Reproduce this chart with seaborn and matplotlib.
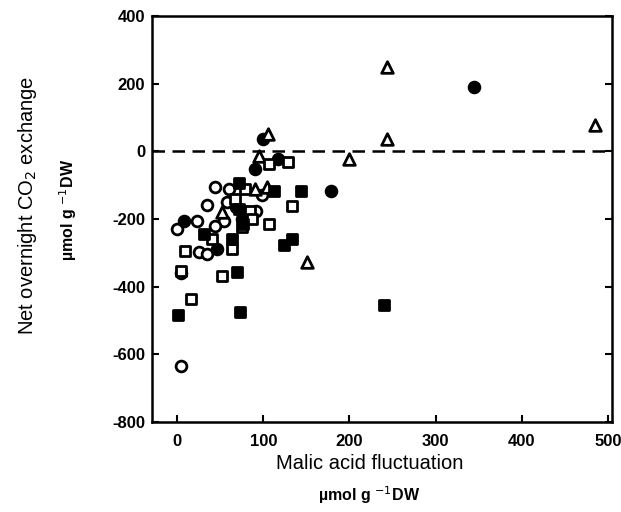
import numpy as np
import pandas as pd
import matplotlib
matplotlib.use("Agg")
import matplotlib.pyplot as plt
import seaborn as sns

# ── Data ─────────────────────────────────────────────────────────────────────
open_circle_x = [44, 58, 35, 98, 54, 44, 23, 0, 25, 35, 5, 5, 92, 60]
open_circle_y = [-107, -151, -160, -130, -205, -222, -207, -231, -299, -305, -359, -634, -178, -112]

filled_circle_x = [100, 117, 90, 178, 344, 8, 46, 68, 75]
filled_circle_y = [36, -24, -53, -118, 190, -207, -290, -165, -200]

open_triangle_x = [243, 243, 485, 200, 95, 105, 90, 104, 52, 151]
open_triangle_y = [250, 36, 77, -24, -15, 52, -112, -107, -181, -326]

open_square_x = [107, 129, 79, 67, 84, 87, 107, 75, 40, 64, 9, 5, 52, 16, 133]
open_square_y = [-38, -33, -113, -142, -178, -201, -216, -225, -260, -290, -296, -355, -370, -438, -163]

filled_square_x = [72, 112, 144, 72, 77, 64, 31, 69, 1, 73, 124, 133, 240]
filled_square_y = [-95, -118, -118, -172, -216, -258, -246, -358, -483, -474, -276, -258, -456]

x_ticks = [0, 100, 200, 300, 400, 500]
y_ticks = [-800, -600, -400, -200, 0, 200, 400]

groups = [
    (open_circle_x, open_circle_y, "o", "white", 60),
    (filled_circle_x, filled_circle_y, "o", "black", 60),
    (open_triangle_x, open_triangle_y, "^", "white", 70),
    (open_square_x, open_square_y, "s", "white", 60),
    (filled_square_x, filled_square_y, "s", "black", 60),
]

# ── Figure ───────────────────────────────────────────────────────────────────
sns.set_style("ticks", {"text.color": "black", "axes.labelcolor": "black",
                        "xtick.color": "black", "ytick.color": "black",
                        "axes.edgecolor": "black"})
plt.rcParams["font.family"] = ["Liberation Sans", "DejaVu Sans"]
plt.rcParams["axes.unicode_minus"] = False

fig = plt.figure(figsize=(6.21, 5.12), dpi=100)
ax = fig.add_axes([0.245, 0.176, 0.741, 0.793])

for gx, gy, mk, fc, sz in groups:
    df = pd.DataFrame({"x": gx, "y": gy})
    sns.scatterplot(data=df, x="x", y="y", marker=mk, s=sz,
                    facecolor=fc, edgecolor="black", linewidth=2.0,
                    zorder=3, ax=ax)

ax.axhline(0, color="black", lw=1.8, ls=(0, (5, 3)), zorder=2)

ax.set_xlim(-29, 505)
ax.set_ylim(-800, 400)
ax.set_xticks(x_ticks)
ax.set_yticks(y_ticks)
ax.tick_params(direction="in", length=5, width=1.5, labelsize=12,
               right=True, top=False, colors="black")
ax.tick_params(axis="x", pad=9)
ax.tick_params(axis="y", pad=5)
for lbl in ax.get_xticklabels() + ax.get_yticklabels():
    lbl.set_fontweight("bold")
for sp in ax.spines.values():
    sp.set_linewidth(1.8)
    sp.set_color("black")

ax.set_xlabel("")
ax.set_ylabel("")

fig.text(0.595, 0.094, "Malic acid fluctuation", ha="center", va="center",
         fontsize=14.5, color="black")
fig.text(0.595, 0.033, "µmol g $^{-1}$DW", ha="center", va="center",
         fontsize=11.5, fontweight="bold", color="black")
fig.text(0.045, 0.598, "Net overnight CO$_2$ exchange", ha="center", va="center",
         rotation=90, fontsize=14.5, color="black")
fig.text(0.11, 0.59, "µmol g $^{-1}$DW", ha="center", va="center",
         rotation=90, fontsize=11.5, fontweight="bold", color="black")

fig.savefig("out.png", dpi=100)
plt.close(fig)
